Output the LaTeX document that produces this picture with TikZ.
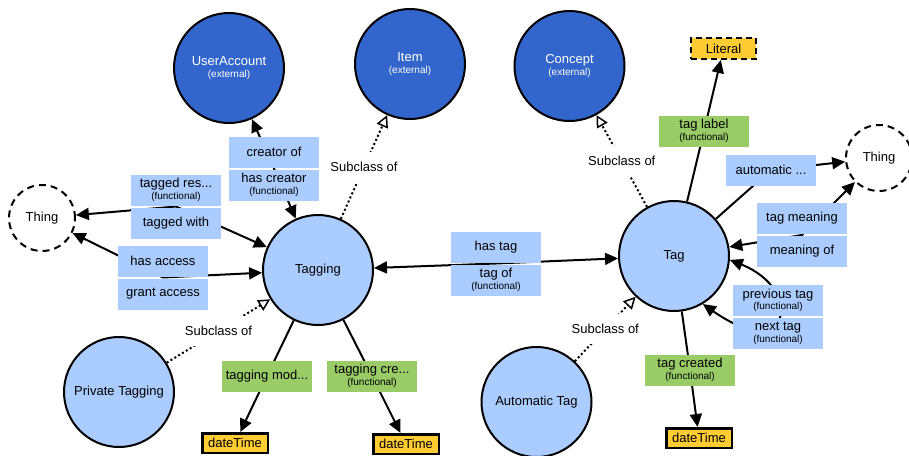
\documentclass[tikz,border=0pt]{standalone}
\usepackage{fontspec}
\setmainfont{Liberation Sans}
\usetikzlibrary{arrows.meta}
\pgfdeclarelayer{bg}
\pgfsetlayers{bg,main}
\definecolor{darkblue}{HTML}{3366CC}
\definecolor{lightblue}{HTML}{AACCFF}
\definecolor{propgreen}{HTML}{99CC66}
\definecolor{gold}{HTML}{FFCC33}
\newcommand\mainf{\fontsize{13}{15}\selectfont}
\newcommand\subf{\fontsize{10}{11}\selectfont}
\newcommand\fn{\\[-3.5pt]{\subf(functional)}}
\newcommand\ex{\\[-3.5pt]{\subf(external)}}
\tikzset{
  cls/.style={circle, draw=black, line width=2pt, fill=lightblue, minimum size=110pt, inner sep=0pt, font=\mainf, align=center},
  ext/.style={cls, fill=darkblue, text=white},
  thing/.style={circle, draw=black, line width=2pt, dash pattern=on 7pt off 5pt, minimum size=66pt, inner sep=0pt, font=\mainf},
  prop/.style={rectangle, fill=lightblue, minimum width=90pt, minimum height=31pt, inner sep=0pt, font=\mainf, align=center},
  dprop/.style={prop, fill=propgreen},
  lit/.style={rectangle, draw=black, line width=2pt, dash pattern=on 6pt off 4pt, fill=gold, minimum width=65pt, minimum height=21pt, inner sep=0pt, font=\mainf},
  dtbox/.style={rectangle, draw=black, line width=2.5pt, fill=gold, minimum width=65.5pt, minimum height=19.5pt, inner sep=0pt, font=\mainf},
  sublab/.style={rectangle, fill=white, minimum width=84pt, minimum height=30pt, inner sep=0pt, font=\mainf},
  edge/.style={draw=black, line width=2pt},
  arrow/.style={edge, -{Triangle[length=13pt,width=12pt]}},
  biarrow/.style={edge, {Triangle[length=13pt,width=12pt]}-{Triangle[length=13pt,width=12pt]}},
  subcl/.style={draw=black, line width=2pt, dash pattern=on 2pt off 2.5pt, -{Triangle[open,length=12pt,width=12pt,line width=1.5pt,fill=white]}},
}
\begin{document}
\begin{tikzpicture}[x=1pt,y=-1pt]
\begin{pgfonlayer}{bg}
\fill[white] (0,0) rectangle (909,455);
\end{pgfonlayer}
\useasboundingbox (0,0) rectangle (909,455);
% classes
\node[ext] (ua) at (229,68) {UserAccount\ex};
\node[ext] (item) at (410,64) {Item\ex};
\node[ext] (concept) at (569.5,66) {Concept\ex};
\node[cls] (tagging) at (318,270) {Tagging};
\node[cls] (tag) at (674,256) {Tag};
\node[cls] (priv) at (119,392) {Private Tagging};
\node[cls] (auto) at (536.5,402) {Automatic Tag};
\node[thing] (thingL) at (42,218) {Thing};
\node[thing] (thingR) at (879,158) {Thing};
\node[lit] (literal) at (723.5,48.5) {Literal};
\node[dtbox] (dt1) at (235,443) {dateTime};
\node[dtbox] (dt2) at (406,444) {dateTime};
\node[dtbox] (dt3) at (699,438) {dateTime};
% property pairs
\coordinate (creatormid) at (274,168.5);
\node[prop] (creatorof) at (274,152) {creator of};
\node[prop] (hascreator) at (274,185) {has creator\fn};
\coordinate (taggedmid) at (176,206.5);
\node[prop] (taggedres) at (176,190) {tagged res...\fn};
\node[prop] (taggedwith) at (176,223) {tagged with};
\coordinate (accessmid) at (163,277.5);
\node[prop] (hasaccess) at (163,261) {has access};
\node[prop] (grantaccess) at (163,294) {grant access};
\coordinate (hastagmid) at (496,263.5);
\node[prop] (hastag) at (496,247) {has tag};
\node[prop] (tagof) at (496,280) {tag of\fn};
\coordinate (meaningmid) at (802,235);
\node[prop] (tagmeaning) at (802,218.5) {tag meaning};
\node[prop] (meaningof) at (802,251.5) {meaning of};
\node[prop] (prevtag) at (778,300.5) {previous tag\fn};
\node[prop] (nexttag) at (778,333.5) {next tag\fn};
% single properties
\node[dprop] (taglabel) at (704,131) {tag label\fn};
\node[prop] (automatic) at (771,170) {automatic ...};
\node[dprop] (tagcreated) at (690,370) {tag created\fn};
\node[dprop] (taggingmod) at (267,376) {tagging mod...};
\node[dprop] (taggingcre) at (372,376) {tagging cre...\fn};
% edges
\begin{pgfonlayer}{bg}
\draw[biarrow] (ua) -- (creatormid) -- (tagging);
\draw[biarrow] (thingL) -- (taggedmid) -- (tagging);
\draw[biarrow] (thingL) -- (accessmid) -- (tagging);
\draw[biarrow] (tagging) -- (hastagmid) -- (tag);
\draw[biarrow] (tag) -- (meaningmid) -- (thingR);
\draw[biarrow] (tag.-4) .. controls (805,290) and (790,365) .. (tag.-59);
\draw[arrow] (tag) -- (taglabel.center) -- (literal);
\draw[arrow] (tag) -- (automatic.center) -- (thingR);
\draw[arrow] (tag) -- (tagcreated.center) -- (dt3);
\draw[arrow] (tagging) -- (taggingmod.center) -- (dt1);
\draw[arrow] (tagging) -- (taggingcre.center) -- (dt2);
\draw[subcl] (tagging) -- node[sublab] (s1) {Subclass of} (item);
\draw[subcl] (tag) -- node[sublab] (s2) {Subclass of} (concept);
\draw[subcl] (priv) -- node[sublab] (s3) {Subclass of} (tagging);
\draw[subcl] (auto) -- node[sublab] (s4) {Subclass of} (tag);
\end{pgfonlayer}
\end{tikzpicture}
\end{document}
